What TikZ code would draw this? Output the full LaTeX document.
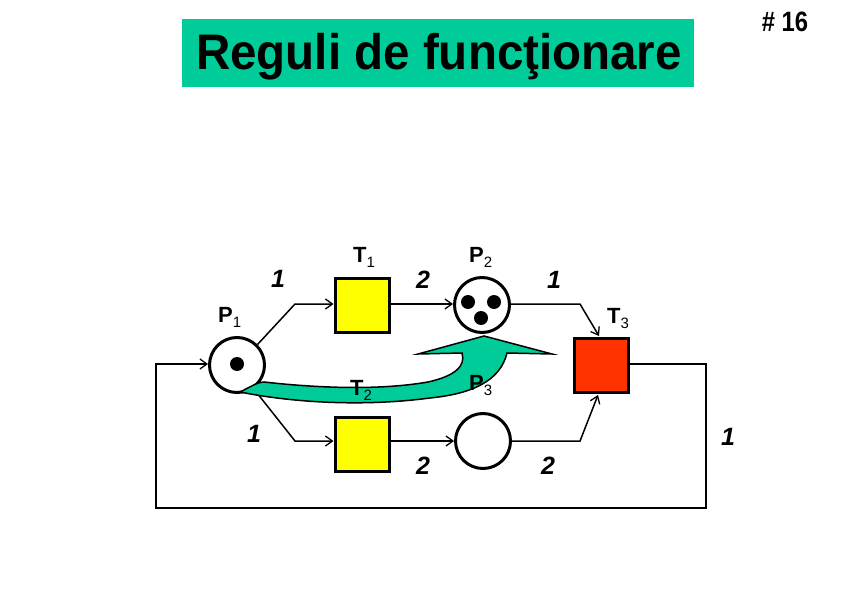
\documentclass[tikz,border=0pt]{standalone}
\usepackage{fontspec}
\setmainfont{Liberation Sans}
\usetikzlibrary{arrows.meta}
\definecolor{teal1}{RGB}{0,204,153}
\definecolor{yel}{RGB}{255,255,0}
\definecolor{redt}{RGB}{255,51,0}
\tikzset{
  place/.style={circle,draw,line width=3pt,minimum size=55pt,inner sep=0pt,fill=white},
  trans/.style={rectangle,draw,line width=3pt,minimum size=54pt,inner sep=0pt},
  token/.style={circle,fill=black,minimum size=14pt,inner sep=0pt},
  conn/.style={line width=1.5pt,-{Straight Barb[length=7pt,width=10pt,line width=1.3pt]}},
  lbl/.style={anchor=base west,inner sep=0pt,font=\fontsize{22}{22}\selectfont\bfseries},
  wt/.style={inner sep=0pt,font=\fontsize{25}{25}\selectfont\bfseries\itshape}
}
\newcommand{\sub}[1]{\raisebox{-5pt}{\fontsize{15}{15}\selectfont\mdseries #1}}
\begin{document}
\begin{tikzpicture}[x=1pt,y=-1pt]
\useasboundingbox (0,0) rectangle (842,596);
% title
\node[fill=teal1,minimum width=512pt,minimum height=68pt,inner sep=0pt] (title) at (438,53) {};
\node[inner sep=0pt,xscale=0.95,font=\fontsize{50}{50}\selectfont\bfseries] (titletext) at (439,57) {Reguli de funcţionare};
\node[inner sep=0pt,xscale=0.85,font=\fontsize{28}{28}\selectfont\bfseries] (num) at (785,22) {\# 16};
% places and transitions
\node[place] (P1) at (237,365) {};
\node[token] (tk1) at (237,364) {};
\node[trans,fill=yel] (T1) at (362,305) {};
\node[place] (P2) at (482,305) {};
\node[token] (tk2) at (468,302) {};
\node[token] (tk3) at (494,302) {};
\node[token] (tk4) at (481,318) {};
\node[trans,fill=yel] (T2) at (362,444) {};
\node[place] (P3) at (483,441) {};
\node[trans,fill=redt] (T3) at (601,365) {};
% bend coordinates
\coordinate (b1) at (295,304);
\coordinate (b2) at (295,441);
\coordinate (b3) at (580,304);
\coordinate (b4) at (580,441);
\coordinate (e3) at (599,336);
\coordinate (e4) at (598,395);
\coordinate (r1) at (706,364);
\coordinate (r2) at (706,508);
\coordinate (r3) at (156,508);
\coordinate (r4) at (156,364);
% connectors
\draw[conn] (P1.45) -- (b1) -- (T1.west |- b1);
\draw[conn] (T1.east |- b1) -- (P2.west |- b1);
\draw[conn] (P2.east |- b1) -- (b3) -- (e3);
\draw[conn] (P1.-55) -- (b2) -- (T2.west |- b2);
\draw[conn] (T2.east |- b2) -- (P3.west);
\draw[conn] (P3.east) -- (b4) -- (e4);
\draw[conn] (T3.east |- r1) -- (r1) -- (r2) -- (r3) -- (r4) -- (P1.west |- r4);
% green arrow
\draw[fill=teal1,line width=1.5pt,line join=miter]
  (240,392) .. controls (252,386) and (258,382) .. (264,382)
  .. controls (300,386) and (370,392) .. (428,382)
  .. controls (455,376) and (466,366) .. (462,353)
  -- (418,354) -- (484,336) -- (552,354) -- (507,353)
  .. controls (500,382) and (470,394) .. (430,398)
  .. controls (370,406) and (300,404) .. (240,392) -- cycle;
% labels
\node[lbl] (lP1) at (218,322) {P\sub{1}};
\node[lbl] (lT1) at (353,262) {T\sub{1}};
\node[lbl] (lP2) at (469,262) {P\sub{2}};
\node[lbl] (lT3) at (607,323) {T\sub{3}};
\node[lbl] (lT2) at (350,395) {T\sub{2}};
\node[lbl] (lP3) at (469,390) {P\sub{3}};
% weights
\node[wt] (w1) at (278,279) {1};
\node[wt] (w2) at (423,280) {2};
\node[wt] (w3) at (554,280) {1};
\node[wt] (w4) at (254,434) {1};
\node[wt] (w5) at (423,466) {2};
\node[wt] (w6) at (548,466) {2};
\node[wt] (w7) at (728,437) {1};
\end{tikzpicture}
\end{document}
